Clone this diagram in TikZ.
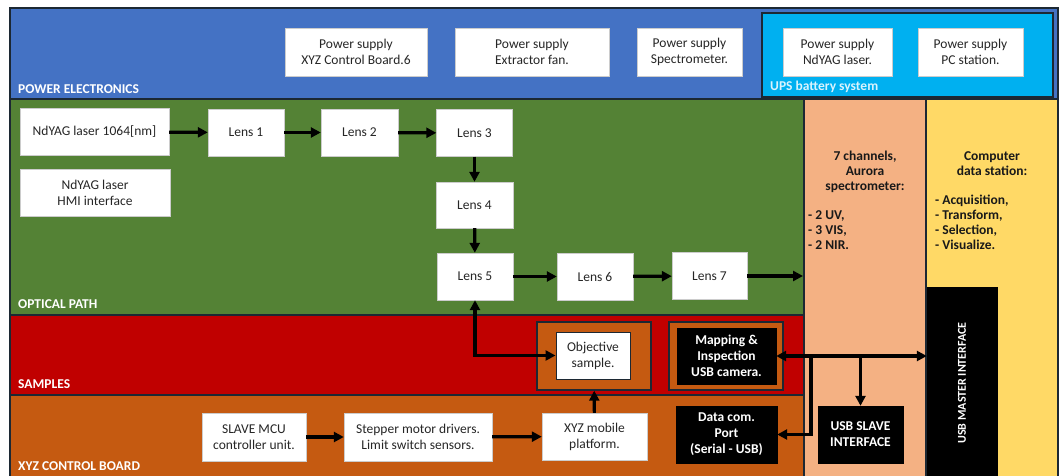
\documentclass[tikz,border=0pt]{standalone}
\usepackage{fontspec}
\setmainfont{Carlito}
\usetikzlibrary{arrows.meta}
\definecolor{pblue}{HTML}{4472C4}
\definecolor{pgreen}{HTML}{548235}
\definecolor{pred}{HTML}{C00000}
\definecolor{porange}{HTML}{C55A11}
\definecolor{psalmon}{HTML}{F4B183}
\definecolor{pyellow}{HTML}{FFD966}
\definecolor{pcyan}{HTML}{00B0F0}
\definecolor{pborder}{HTML}{1C2833}
\definecolor{ptext}{HTML}{262626}
\tikzset{
  region/.style={draw=pborder, line width=1.6pt},
  wbox/.style={fill=white, draw=gray!40, line width=0.4pt, align=center, inner sep=0pt,
    text=ptext, font=\fontsize{13.5}{16}\selectfont},
  bbox/.style={fill=black, draw=black, align=center, inner sep=0pt,
    text=white, font=\bfseries\fontsize{13.5}{16}\selectfont},
  obox/.style={fill=porange, draw=pborder, line width=1.4pt, inner sep=0pt},
  lbl/.style={text=white, font=\bfseries\fontsize{13.5}{15}\selectfont, anchor=west, inner sep=0pt},
  btxt/.style={text=black!90, font=\bfseries\fontsize{13.5}{15}\selectfont, inner sep=0pt},
  arr/.style={line width=3.2pt, -{Triangle[length=10pt,width=10pt]}},
  darr/.style={line width=3.2pt, {Triangle[length=10pt,width=10pt]}-{Triangle[length=10pt,width=10pt]}},
}
\begin{document}
\begin{tikzpicture}[x=1pt,y=-1pt]
\useasboundingbox (0,0) rectangle (1060,476);
\fill[white] (0,0) rectangle (1060,476);
% regions
\draw[region, fill=pblue] (10,8) rectangle (1058,99);
\draw[region, fill=pgreen] (10,99) rectangle (804,315);
\draw[region, fill=pred] (10,315) rectangle (804,395);
\draw[region, fill=porange] (10,395) rectangle (804,480);
\draw[region, fill=psalmon] (804,99) rectangle (926,480);
\draw[region, fill=pyellow] (926,99) rectangle (1058,480);
\draw[region, fill=pcyan] (762,13) rectangle (1053,97);
% region labels
\node[lbl] (lpe) at (18,89) {POWER ELECTRONICS};
\node[lbl] (lop) at (18,304) {OPTICAL PATH};
\node[lbl] (lsa) at (18,384) {SAMPLES};
\node[lbl] (lxyz) at (18,466) {XYZ CONTROL BOARD};
\node[lbl, text=white!85!pcyan] (lups) at (770,87) {UPS battery system};
% power supplies
\node[wbox, minimum width=142pt, minimum height=48pt] (ps1) at (356,52) {Power supply\\XYZ Control Board.6};
\node[wbox, minimum width=154pt, minimum height=48pt] (ps2) at (532,52) {Power supply\\Extractor fan.};
\node[wbox, minimum width=105pt, minimum height=48pt] (ps3) at (689.5,52) {Power supply\\Spectrometer.};
\node[wbox, minimum width=109pt, minimum height=48pt] (ps4) at (837.5,52) {Power supply\\NdYAG laser.};
\node[wbox, minimum width=105pt, minimum height=48pt] (ps5) at (970.5,52) {Power supply\\PC station.};
% optical path
\node[wbox, minimum width=149pt, minimum height=47pt] (laser) at (94.5,132) {NdYAG laser 1064[nm]};
\node[wbox, minimum width=150pt, minimum height=47pt] (hmi) at (95,192.5) {NdYAG laser\\HMI interface};
\node[wbox, minimum width=76pt, minimum height=47pt] (l1) at (246,132.5) {Lens 1};
\node[wbox, minimum width=77pt, minimum height=47pt] (l2) at (359.5,132.5) {Lens 2};
\node[wbox, minimum width=76pt, minimum height=47pt] (l3) at (474.5,133) {Lens 3};
\node[wbox, minimum width=77pt, minimum height=46pt] (l4) at (474.5,205) {Lens 4};
\node[wbox, minimum width=76pt, minimum height=47pt] (l5) at (475,276.5) {Lens 5};
\node[wbox, minimum width=76pt, minimum height=47pt] (l6) at (595,276.5) {Lens 6};
\node[wbox, minimum width=75pt, minimum height=47pt] (l7) at (709.5,276) {Lens 7};
\coordinate (specin) at (803,276);
% samples
\node[obox, minimum width=114pt, minimum height=68pt] (objo) at (594,356) {};
\node[wbox, draw=pborder, line width=1pt, minimum width=74pt, minimum height=47pt] (obj) at (593,355.5) {Objective\\sample.};
\node[obox, minimum width=114pt, minimum height=68pt] (camo) at (726,356) {};
\node[bbox, minimum width=99pt, minimum height=56pt] (cam) at (726.5,356) {Mapping \&\\Inspection\\USB camera.};
% xyz control
\node[wbox, minimum width=104pt, minimum height=48pt] (mcu) at (254,437) {SLAVE MCU\\controller unit.};
\node[wbox, minimum width=148pt, minimum height=48pt] (step) at (418,437) {Stepper motor drivers.\\Limit switch sensors.};
\node[wbox, minimum width=105pt, minimum height=47pt] (xyz) at (594.5,436.5) {XYZ mobile\\platform.};
\node[bbox, minimum width=101pt, minimum height=57pt] (data) at (726.5,434.5) {Data com.\\Port\\(Serial - USB)};
\node[bbox, minimum width=85pt, minimum height=57pt] (slave) at (860.5,434.5) {USB SLAVE\\INTERFACE};
\node[bbox, minimum width=70pt, minimum height=192pt] (master) at (962,383) {};
\node[text=white, font=\bfseries\fontsize{12}{14}\selectfont, rotate=90, inner sep=0pt] (mastertxt) at (master.center) {USB MASTER INTERFACE};
% spectrometer / computer texts
\node[btxt, align=center, anchor=north] (spt) at (865,151) {7 channels,\\Aurora\\spectrometer:};
\node[btxt, align=left, anchor=north west] (spl) at (808,210) {- 2 UV,\\- 3 VIS,\\- 2 NIR.};
\node[btxt, align=center, anchor=north] (cpt) at (992,151) {Computer\\data station:};
\node[btxt, align=left, anchor=north west] (cpl) at (935,195) {- Acquisition,\\- Transform,\\- Selection,\\- Visualize.};
% connectors
\draw[arr] (laser) -- (l1);
\draw[arr] (l1) -- (l2);
\draw[arr] (l2) -- (l3);
\draw[arr] (l3) -- (l4);
\draw[arr] (l4) -- (l5);
\draw[arr] (l5) -- (l6);
\draw[arr] (l6) -- (l7);
\draw[arr] (l7) -- (specin);
\draw[darr] (l5.south) |- (obj.west);
\draw[arr] (xyz) -- (objo);
\draw[arr] (mcu) -- (step);
\draw[arr] (step) -- (xyz);
\coordinate (j1) at (811,356);
\coordinate (j2) at (860.5,356);
\draw[darr] (cam.east) -- (cam.east -| master.west);
\draw[arr] (j1) |- (data.east);
\draw[arr] (j2) -- (slave.north);
\end{tikzpicture}
\end{document}
